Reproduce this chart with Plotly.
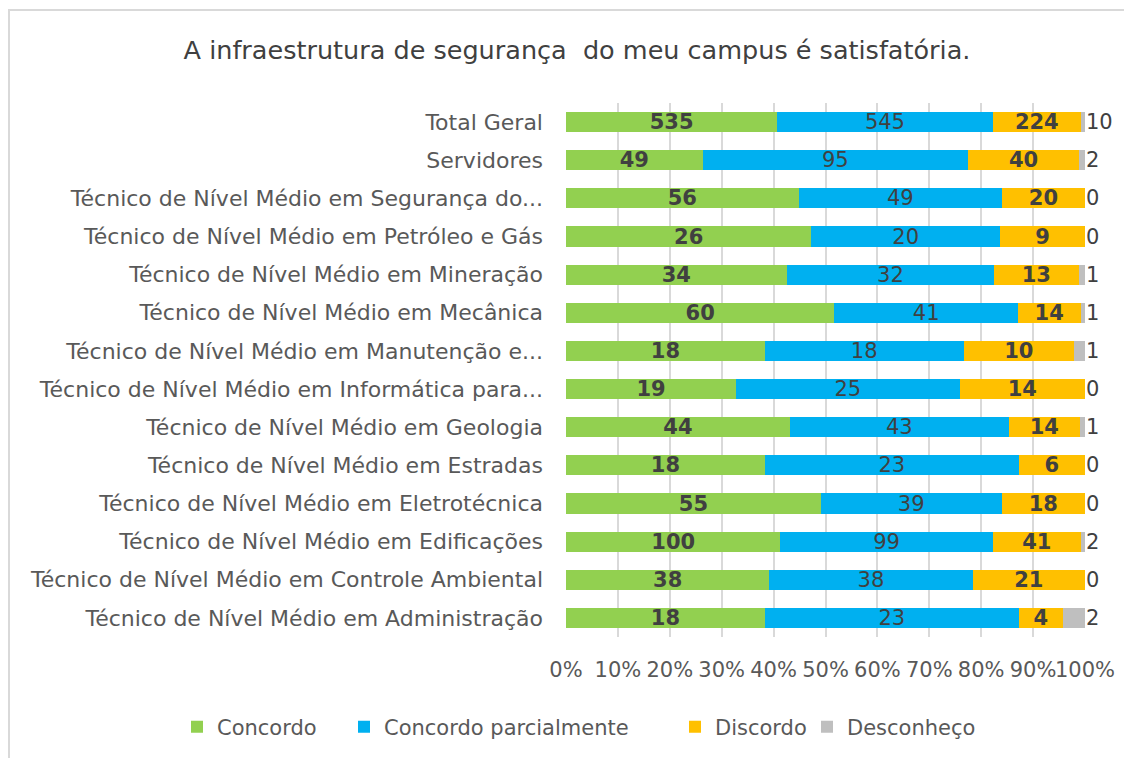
import plotly.graph_objects as go

categories = [
    "Técnico de Nível Médio em Administração",
    "Técnico de Nível Médio em Controle Ambiental",
    "Técnico de Nível Médio em Edificações",
    "Técnico de Nível Médio em Eletrotécnica",
    "Técnico de Nível Médio em Estradas",
    "Técnico de Nível Médio em Geologia",
    "Técnico de Nível Médio em Informática para...",
    "Técnico de Nível Médio em Manutenção e...",
    "Técnico de Nível Médio em Mecânica",
    "Técnico de Nível Médio em Mineração",
    "Técnico de Nível Médio em Petróleo e Gás",
    "Técnico de Nível Médio em Segurança do...",
    "Servidores",
    "Total Geral",
]
concordo = [18, 38, 100, 55, 18, 44, 19, 18, 60, 34, 26, 56, 49, 535]
concordo_parcialmente = [23, 38, 99, 39, 23, 43, 25, 18, 41, 32, 20, 49, 95, 545]
discordo = [4, 21, 41, 18, 6, 14, 14, 10, 14, 13, 9, 20, 40, 224]
desconheco = [2, 0, 2, 0, 0, 1, 0, 1, 1, 1, 0, 0, 2, 10]
tick_vals = [0, 10, 20, 30, 40, 50, 60, 70, 80, 90, 100]
tick_text = ["0%", "10%", "20%", "30%", "40%", "50%", "60%", "70%", "80%", "90%", "100%"]

FONT = "DejaVu Sans, Noto Sans, sans-serif"
TXT = "#404040"
GREY = "#595959"

# page offset (browser body margin) = 8 px
W, H = 1124, 750
L, T, R, B = 558, 95, 47, 121
PW, PH = W - L - R, H - T - B

series = [
    ("Concordo", concordo, "#92d050", "<b>%{text}</b>", "legend"),
    ("Concordo parcialmente", concordo_parcialmente, "#00b0f0", "%{text}", "legend2"),
    ("Discordo", discordo, "#ffc000", "<b>%{text}</b>", "legend3"),
]

fig = go.Figure()
for name, vals, color, tmpl, lg in series:
    fig.add_trace(go.Bar(
        y=categories, x=vals, name=name, orientation="h",
        marker=dict(color=color, line=dict(width=0)),
        text=vals, texttemplate=tmpl, textposition="inside",
        insidetextanchor="middle", textangle=0,
        textfont=dict(family=FONT, size=21, color=TXT),
        constraintext="none", legend=lg,
        hoverinfo="skip",
    ))
fig.add_trace(go.Bar(
    y=categories, x=desconheco, name="Desconheço", orientation="h",
    marker=dict(color="#bfbfbf", line=dict(width=0)),
    legend="legend4",
    hoverinfo="skip",
))
# outside labels for "Desconheço"
for cat, v in zip(categories, desconheco):
    fig.add_annotation(
        x=100, y=cat, xref="x", yref="y", text=str(v), showarrow=False,
        xanchor="left", xshift=-1,
        font=dict(family=FONT, size=21, color=TXT),
    )

legend_y = -(719 - (H - B)) / PH
def leg(xpix):
    return dict(orientation="h", xref="paper", x=(xpix - L) / PW, xanchor="left",
                yref="paper", y=legend_y, yanchor="middle",
                font=dict(family=FONT, size=21, color=GREY),
                itemwidth=30, bgcolor="rgba(0,0,0,0)")

fig.update_layout(
    barmode="stack", barnorm="percent", bargap=0.47,
    width=W, height=H,
    margin=dict(l=L, r=R, t=T, b=B, autoexpand=False),
    paper_bgcolor="white", plot_bgcolor="white",
    title=dict(text="A infraestrutura de segurança  do meu campus é satisfatória.",
               x=(577 - 8) / W, xanchor="center", xref="container",
               y=1 - 42 / H, yanchor="middle",
               font=dict(family=FONT, size=25.5, color=TXT)),
    legend=leg(169), legend2=leg(336), legend3=leg(667), legend4=leg(799),
    showlegend=True,
)
fig.update_xaxes(range=[0, 100], tickvals=tick_vals, ticktext=tick_text,
                 tickangle=0,
                 showgrid=True, gridcolor="#d9d9d9", gridwidth=2,
                 zeroline=False, showline=False, automargin=False,
                 tickfont=dict(family=FONT, size=21, color=GREY),
                 ticks="", ticklabelstandoff=18, fixedrange=True)
fig.update_yaxes(showgrid=False, showline=False, ticks="", automargin=False,
                 tickfont=dict(family=FONT, size=22, color=GREY),
                 ticklabelstandoff=22, fixedrange=True)

# chart border (light grey, top and left)
fig.add_shape(type="rect", xref="paper", yref="paper",
              x0=(1 - L) / PW, x1=(W + 10 - L) / PW,
              y0=-(B + 20) / PH, y1=(H - 2 - B) / PH,
              line=dict(color="#d9d9d9", width=2), layer="below")

fig.write_html("out.html")
